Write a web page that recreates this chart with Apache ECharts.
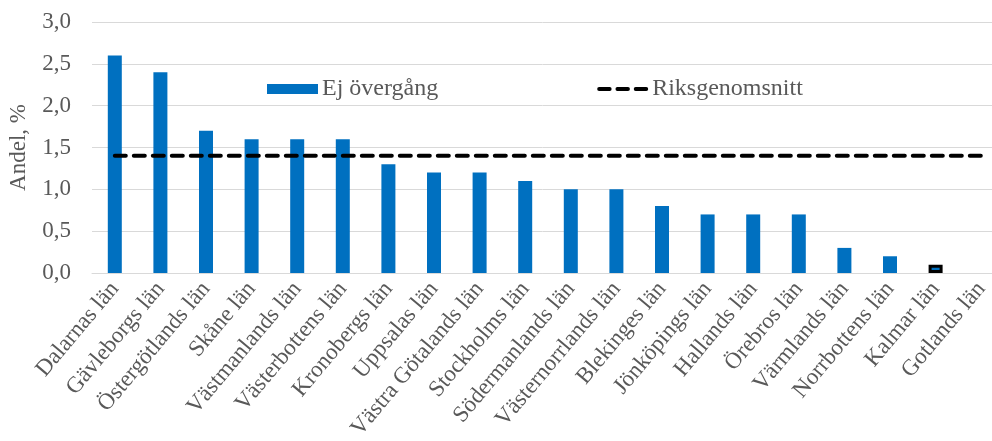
<!DOCTYPE html>
<html>
<head>
<meta charset="utf-8">
<script src="https://cdn.jsdelivr.net/npm/echarts@6/dist/echarts.min.js"></script>
<style>
  html, body { margin: 0; padding: 0; background: #fff; }
  #chart { width: 992px; height: 441px; }
</style>
</head>
<body>
<div id="chart"></div>
<script>
// län, sorterade efter andel
var lan = ['Dalarnas län', 'Gävleborgs län', 'Östergötlands län', 'Skåne län',
  'Västmanlands län', 'Västerbottens län', 'Kronobergs län', 'Uppsalas län',
  'Västra Götalands län', 'Stockholms län', 'Södermanlands län', 'Västernorrlands län',
  'Blekinges län', 'Jönköpings län', 'Hallands län', 'Örebros län',
  'Värmlands län', 'Norrbottens län', 'Kalmar län', 'Gotlands län'];
var ejOvergang = [2.6, 2.4, 1.7, 1.6, 1.6, 1.6, 1.3, 1.2, 1.2, 1.1, 1.0, 1.0, 0.8, 0.7, 0.7, 0.7, 0.3, 0.2, 0.1, 0];
var riksgenomsnitt = [1.4, 1.4, 1.4, 1.4, 1.4, 1.4, 1.4, 1.4, 1.4, 1.4, 1.4, 1.4, 1.4, 1.4, 1.4, 1.4, 1.4, 1.4, 1.4, 1.4];
var markeradLan = 'Kalmar län';

var font = 'Liberation Serif';
var grey = '#595959';

var barData = ejOvergang.map(function (v, i) {
  if (lan[i] === markeradLan) {
    return { value: v, itemStyle: { borderColor: '#000', borderWidth: 3 } };
  }
  return v;
});

var myChart = echarts.init(document.getElementById('chart'));
myChart.setOption({
  animation: false,
  textStyle: { fontFamily: font },
  legend: {
    left: 267,
    top: 77,
    padding: 0,
    itemWidth: 51,
    itemHeight: 10,
    itemGap: 159,
    textStyle: { fontFamily: font, fontSize: 24, color: grey, padding: [0, 0, 0, -1] },
    data: [
      { name: 'Ej övergång', icon: 'rect' },
      { name: 'Riksgenomsnitt', icon: 'path://M2,0H13A2,2 0 0 1 13,4H2A2,2 0 0 1 2,0Z M21,0H32A2,2 0 0 1 32,4H21A2,2 0 0 1 21,0Z M40,0H51A2,2 0 0 1 51,4H40A2,2 0 0 1 40,0Z', itemStyle: { color: '#000' } }
    ]
  },
  grid: { left: 92, right: -12, top: 22, bottom: 168, containLabel: false, outerBoundsMode: 'none' },
  xAxis: {
    type: 'category',
    data: lan,
    axisTick: { show: false },
    axisLine: { lineStyle: { color: '#d9d9d9', width: 1 } },
    axisLabel: {
      interval: 0, rotate: 50, fontFamily: font, fontSize: 23, color: grey, margin: 12
    }
  },
  yAxis: {
    type: 'value',
    min: 0, max: 3, interval: 0.5,
    name: 'Andel, %',
    nameLocation: 'middle',
    nameGap: 62,
    nameTextStyle: { fontFamily: font, fontSize: 23, color: grey },
    axisLine: { show: false },
    axisTick: { show: false },
    splitLine: { lineStyle: { color: '#d9d9d9', width: 1 } },
    axisLabel: {
      fontFamily: font, fontSize: 23, color: grey, margin: 21,
      formatter: function (v) { return v.toFixed(1).replace('.', ','); }
    }
  },
  series: [
    {
      name: 'Ej övergång',
      type: 'bar',
      barWidth: 14,
      itemStyle: { color: '#0070c0' },
      data: barData
    },
    {
      name: 'Riksgenomsnitt',
      type: 'line',
      symbol: 'none',
      lineStyle: { color: '#000', width: 4, type: [11, 8], cap: 'round' },
      itemStyle: { color: '#000' },
      data: riksgenomsnitt
    }
  ]
});
</script>
</body>
</html>
